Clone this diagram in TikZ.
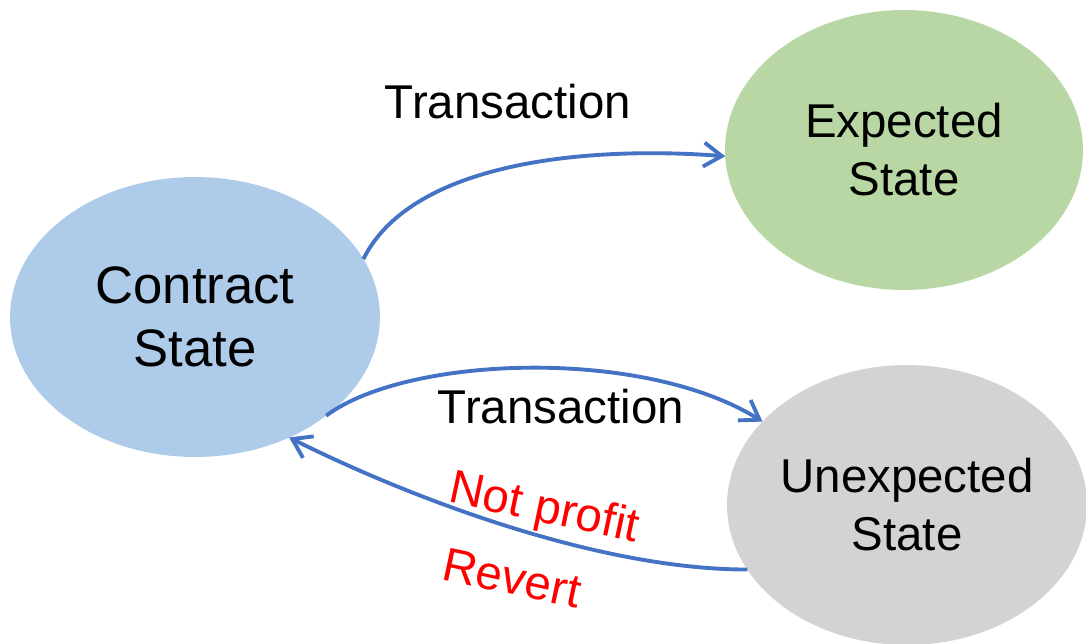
\documentclass[tikz,border=0pt]{standalone}
\usepackage{fontspec}
\setmainfont{Liberation Sans}
\usetikzlibrary{shapes.geometric,arrows.meta}
\definecolor{cblue}{HTML}{AFCBEA}
\definecolor{cgreen}{HTML}{B8D7A4}
\definecolor{cgray}{HTML}{D3D3D3}
\definecolor{lineblue}{HTML}{4472C4}
\tikzset{
  statebox/.style={ellipse, draw=none, outer sep=0pt, inner sep=0pt, align=center, font=\fontsize{27}{33}\selectfont},
  conn/.style={draw=lineblue, line width=2.2pt, -{Straight Barb[length=3.6mm,width=4.8mm,line width=2.2pt]}},
  lbl/.style={font=\fontsize{27}{33}\selectfont, inner sep=0pt},
  redlbl/.style={lbl, text=red, rotate=-12}
}
\begin{document}
\begin{tikzpicture}[x=0.02cm,y=-0.02cm]
\useasboundingbox (0,0) rectangle (1086,643);
\node[statebox, fill=cblue, minimum width=7.4cm, minimum height=5.6cm, font=\fontsize{30}{36}\selectfont] (cs) at (195,317) {Contract\\State};
\node[statebox, fill=cgreen, minimum width=7.16cm, minimum height=5.6cm] (es) at (904,150) {Expected\\State};
\node[statebox, fill=cgray, minimum width=7.2cm, minimum height=5.6cm] (us) at (907,505) {Unexpected\\State};
\node[lbl] (t1) at (508,102) {Transaction};
\node[lbl] (t2) at (561,407) {Transaction};
\node[redlbl] (np) at (544,510) {Not profit};
\node[redlbl] (rv) at (512,578) {Revert};
\draw[conn] (cs.19) .. controls +(50,-100) and +(-130,-10) .. (es.182);
\draw[conn] (cs.-37) .. controls +(80,-60) and +(-120,-75) .. (us.150);
\draw[conn] (us.202) .. controls +(-150,0) and +(120,60) .. (cs.-52);
\end{tikzpicture}
\end{document}
